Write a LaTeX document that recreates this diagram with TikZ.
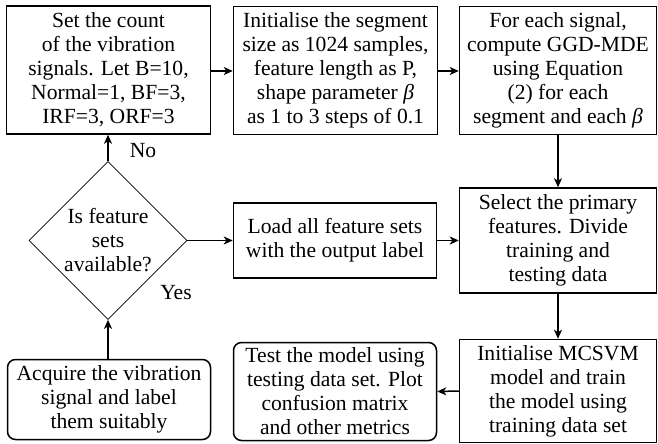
\documentclass[tikz,border=0pt]{standalone}
\usepackage{fontspec}
\setmainfont{Liberation Serif}
\usetikzlibrary{shapes.geometric,arrows.meta}
\begin{document}
\begin{tikzpicture}[x=1pt,y=-1pt,
  every node/.style={font=\fontsize{21.6}{24}\selectfont, align=center, inner sep=0pt},
  box/.style={draw, line width=1.5pt, rectangle},
  rbox/.style={box, rounded corners=8pt},
  dia/.style={draw, line width=0.7pt, diamond, minimum width=158pt, minimum height=158pt},
  arr/.style={line width=1.5pt, -{Stealth[length=9pt,width=8pt,inset=2.5pt]}},
  lbl/.style={font=\fontsize{21.6}{24}\selectfont}]
\useasboundingbox (0,0) rectangle (658,444);
\node[box, minimum width=204pt, minimum height=128pt] (b1) at (108.5,70) {Set the count\\of the vibration\\signals. Let B=10,\\Normal=1, BF=3,\\IRF=3, ORF=3};
\node[box, minimum width=204pt, minimum height=128pt] (b2) at (335.5,70.5) {Initialise the segment\\size as 1024 samples,\\feature length as P,\\shape parameter {\itshape β}\\as 1 to 3 steps of 0.1};
\node[box, minimum width=197pt, minimum height=128pt] (b3) at (558,70.5) {For each signal,\\compute GGD-MDE\\using Equation\\(2) for each\\segment and each {\itshape β}};
\node[dia] (d) at (108,240.5) {Is feature\\sets\\available?};
\node[box, minimum width=203pt, minimum height=75pt] (b4) at (335,240.5) {Load all feature sets\\with the output label};
\node[box, minimum width=197pt, minimum height=105pt] (b5) at (558,240.5) {Select the primary\\features. Divide\\training and\\testing data};
\node[rbox, minimum width=203pt, minimum height=80pt] (b6) at (109,399.5) {Acquire the vibration\\signal and label\\them suitably};
\node[rbox, minimum width=203pt, minimum height=98pt] (b7) at (335,391.5) {Test the model using\\testing data set. Plot\\confusion matrix\\and other metrics};
\node[box, minimum width=197pt, minimum height=103pt] (b8) at (558,391) {Initialise MCSVM\\model and train\\the model using\\training data set};
\draw[arr] (b1.east |- 0,71) -- (b2.west |- 0,71);
\draw[arr] (b2.east |- 0,71) -- (b3.west |- 0,71);
\draw[arr] (b3.south) -- (b5.north);
\draw[arr] (b5.south) -- (b8.north);
\draw[arr] (b8.west) -- (b7.east);
\draw[arr] (b6.north -| d.south) -- (d.south);
\draw[arr] (d.east) -- (b4.west);
\draw[arr] (b4.east) -- (b5.west);
\draw[arr] (d.north) -- (d.north |- b1.south);
\node[lbl] (no) at (143,151) {No};
\node[lbl] (yes) at (176,293) {Yes};
\end{tikzpicture}
\end{document}
